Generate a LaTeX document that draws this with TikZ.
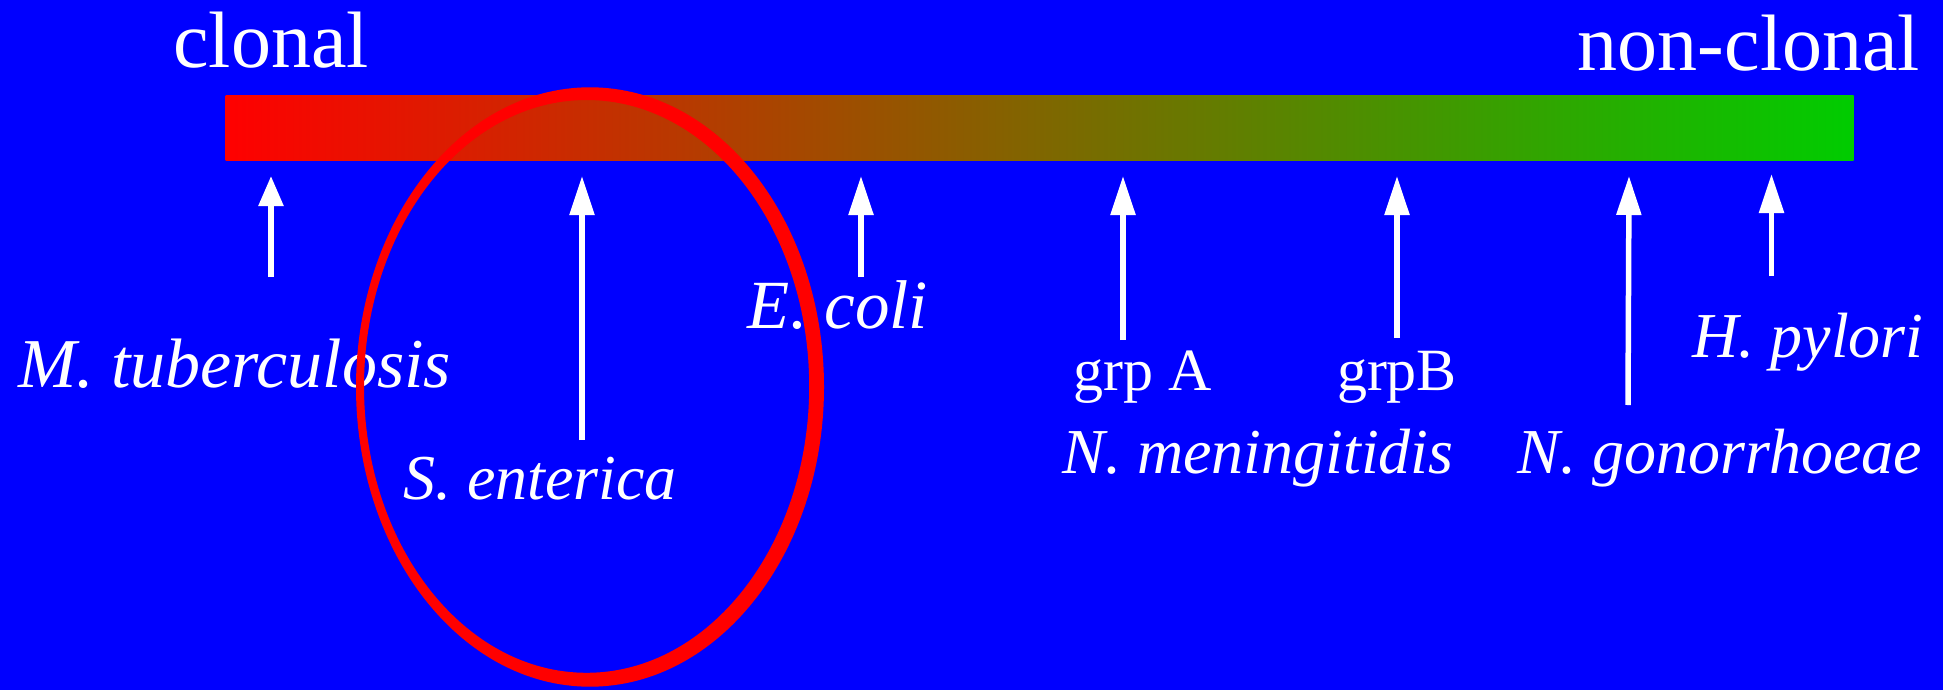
\documentclass[tikz,border=0pt]{standalone}
\usepackage{fontspec}
\setmainfont{Liberation Serif}
\usetikzlibrary{arrows.meta}
\definecolor{bgblue}{RGB}{0,0,255}
\definecolor{barred}{RGB}{255,0,0}
\definecolor{bargreen}{RGB}{0,204,0}
\definecolor{ringred}{RGB}{255,0,0}
\tikzset{
  head/.style={text=white, anchor=base, inner sep=0pt, font=\fontsize{80}{90}\selectfont},
  species/.style={text=white, anchor=base, inner sep=0pt, font=\fontsize{64}{76}\selectfont\itshape},
  bigspecies/.style={species, font=\fontsize{#1}{80}\selectfont\itshape},
  group/.style={text=white, anchor=base, inner sep=0pt, font=\fontsize{60}{70}\selectfont},
  pointer/.style={draw=white, line width=5.5pt, -{Triangle[length=39pt,width=24pt]}},
  shortpointer/.style={draw=white, line width=5.5pt, -{Triangle[length=30pt,width=24pt]}},
}
\begin{document}
\begin{tikzpicture}[x=1pt,y=-1pt]
\fill[bgblue] (0,0) rectangle (1943,690);
\useasboundingbox (0,0) rectangle (1943,690);
% gradient bar
\shade[left color=barred, right color=bargreen] (225.5,95.5) rectangle (1853.5,160);
% headings
\node[head] (clonal) at (271,68) {clonal};
\node[head] (nonclonal) at (1749,71) {non-clonal};
% arrow coordinates
\coordinate (t1) at (271,277); \coordinate (h1) at (271,176);
\coordinate (t2) at (582,440); \coordinate (h2) at (582,176);
\coordinate (t3) at (861,277); \coordinate (h3) at (861,176);
\coordinate (t4) at (1123,340); \coordinate (h4) at (1123,176);
\coordinate (t5) at (1397,338); \coordinate (h5) at (1397,176);
\coordinate (t6) at (1628,405); \coordinate (h6) at (1629,176);
\coordinate (t7) at (1771.5,276); \coordinate (h7) at (1771.5,174);
\draw[shortpointer] (t1) -- (h1);
\foreach \i in {2,...,7} {\draw[pointer] (t\i) -- (h\i);}
% labels
\node[bigspecies=70] (mtb) at (234.5,387) {M. tuberculosis};
\node[species] (sent) at (540,499) {S. enterica};
\node[bigspecies=69] (ecoli) at (838,328) {E. coli};
\node[group] (grpA) at (1143,390) {grp A};
\node[group] (grpB) at (1397,390) {grpB};
\node[species] (nmen) at (1258,473) {N. meningitidis};
\node[species] (ngon) at (1720,473) {N. gonorrhoeae};
\node[species] (hpyl) at (1808,357) {H. pylori};
% ring (uneven stroke: outer minus inner ellipse)
\fill[ringred, even odd rule]
  (590,387) ellipse [x radius=234, y radius=299.7]
  (586.6,386.4) ellipse [x radius=222.6, y radius=286.4];
\end{tikzpicture}
\end{document}
